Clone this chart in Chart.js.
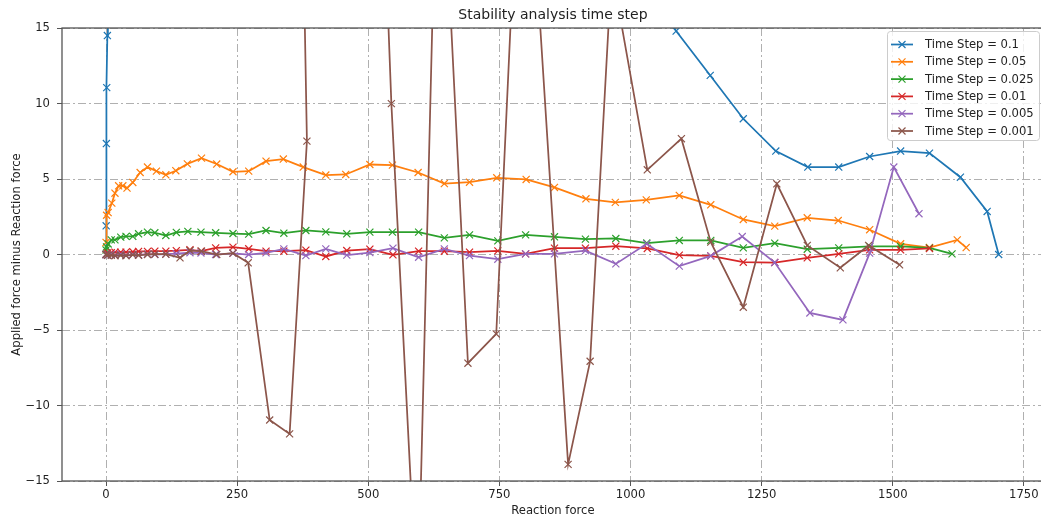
<!DOCTYPE html>
<html>
<head>
<meta charset="utf-8">
<script src="https://cdn.jsdelivr.net/npm/chart.js@4"></script>
<style>
    html, body { margin: 0; padding: 0; background: #fff; }
    #wrap { width: 1041px; height: 522px; overflow: hidden; }
</style>
</head>
<body>
<div id="wrap"><canvas id="stabilityChart" width="1050" height="522"></canvas></div>
<script>
// x = reaction force, y = applied force minus reaction force, one pair of arrays per time step
const step01X = [0, 0.2, 0.6, 1.3, 2.5, 3.5, 1000, 1087, 1152, 1215, 1277, 1338, 1397, 1456, 1515, 1570, 1629, 1680, 1702];
const step01Y = [0, 1.9, 7.35, 11.05, 14.5, 60, 20, 14.8, 11.86, 8.99, 6.85, 5.79, 5.79, 6.49, 6.85, 6.71, 5.12, 2.85, 0];

const step005X = [0, 1, 4, 11, 17, 24, 32, 40, 51, 65, 79, 96, 114, 133, 155, 182, 211, 242, 272, 305, 338, 376, 419, 457, 503, 546, 595, 645, 693, 745, 801, 855, 915, 971, 1030, 1093, 1153, 1215, 1275, 1337, 1396, 1456, 1515, 1570, 1623, 1640];
const step005Y = [0.8, 2.6, 2.78, 3.4, 4.06, 4.55, 4.55, 4.4, 4.77, 5.43, 5.79, 5.52, 5.28, 5.55, 6.0, 6.38, 5.99, 5.48, 5.52, 6.18, 6.32, 5.79, 5.26, 5.3, 5.96, 5.92, 5.43, 4.7, 4.79, 5.08, 4.97, 4.44, 3.69, 3.45, 3.62, 3.91, 3.29, 2.32, 1.88, 2.43, 2.25, 1.64, 0.71, 0.46, 0.97, 0.46];

const step0025X = [0, 1, 4, 10, 17, 28, 38, 51, 62, 79, 93, 114, 134, 156, 181, 209, 242, 272, 305, 339, 381, 419, 459, 503, 546, 596, 645, 693, 747, 800, 855, 914, 972, 1031, 1093, 1153, 1215, 1275, 1337, 1397, 1456, 1515, 1570, 1613];
const step0025Y = [0.3, 0.5, 0.7, 0.97, 0.97, 1.15, 1.2, 1.2, 1.37, 1.48, 1.44, 1.26, 1.46, 1.53, 1.48, 1.44, 1.39, 1.35, 1.59, 1.41, 1.59, 1.5, 1.37, 1.48, 1.48, 1.48, 1.1, 1.3, 0.9, 1.3, 1.17, 1.02, 1.06, 0.76, 0.93, 0.93, 0.44, 0.75, 0.35, 0.44, 0.53, 0.53, 0.44, 0.04];

const step001X = [0, 3, 10, 17, 28, 38, 51, 62, 79, 93, 114, 134, 160, 181, 209, 242, 272, 305, 339, 381, 419, 459, 503, 547, 596, 645, 693, 747, 800, 855, 914, 972, 1032, 1093, 1153, 1215, 1275, 1337, 1397, 1456, 1515, 1570];
const step001Y = [0, 0.1, 0.12, 0.15, 0.15, 0.15, 0.18, 0.2, 0.2, 0.22, 0.22, 0.25, 0.31, 0.22, 0.44, 0.49, 0.38, 0.22, 0.22, 0.29, -0.13, 0.26, 0.35, -0.02, 0.22, 0.22, 0.15, 0.24, 0.04, 0.42, 0.42, 0.55, 0.4, -0.04, -0.09, -0.51, -0.53, -0.22, 0.04, 0.31, 0.31, 0.4];

const step0005X = [0, 3, 10, 17, 28, 38, 51, 62, 79, 93, 114, 134, 160, 181, 209, 242, 272, 305, 339, 381, 419, 459, 503, 547, 596, 645, 693, 747, 800, 855, 914, 972, 1031, 1093, 1153, 1213, 1275, 1342, 1405, 1456, 1502, 1550];
const step0005Y = [0, -0.05, 0, -0.05, 0.02, -0.05, 0, -0.03, 0.02, 0, 0.03, 0.05, 0.12, 0.1, 0, 0.08, 0, 0.11, 0.37, -0.07, 0.37, -0.04, 0.13, 0.42, -0.18, 0.37, -0.07, -0.31, 0.04, 0.04, 0.26, -0.62, 0.71, -0.77, -0.09, 1.19, -0.53, -3.87, -4.33, 0.09, 5.79, 2.7];

const step0001X = [0, 3, 10, 17, 28, 38, 51, 62, 79, 93, 114, 141, 160, 182, 211, 242, 271, 312, 350, 383, 230, 544, 594, 634, 690, 744, 795, 881, 923, 964, 1032, 1097, 1153, 1215, 1279, 1337, 1400, 1454, 1513];
const step0001Y = [0, -0.05, -0.05, -0.08, -0.05, -0.08, -0.02, -0.05, 0, 0.02, 0.02, -0.22, 0.26, 0.22, 0, 0.09, -0.55, -10.96, -11.88, 7.51, 300, 9.99, -24, 32, -7.2, -5.26, 33, -13.9, -7.07, 18.9, 5.61, 7.67, 0.82, -3.49, 4.68, 0.6, -0.88, 0.6, -0.68];

const seriesNames = ["Time Step = 0.1", "Time Step = 0.05", "Time Step = 0.025", "Time Step = 0.01", "Time Step = 0.005", "Time Step = 0.001"];
const seriesX = [step01X, step005X, step0025X, step001X, step0005X, step0001X];
const seriesY = [step01Y, step005Y, step0025Y, step001Y, step0005Y, step0001Y];
const colors = ["#1f77b4", "#ff7f0e", "#2ca02c", "#d62728", "#9467bd", "#8c564b"];

const xTicks = [0, 250, 500, 750, 1000, 1250, 1500, 1750];
const yTicks = [-15, -10, -5, 0, 5, 10, 15];

const FONT = "DejaVu Sans";
const TEXT = "#222";
const SPINE = "#555";

const fmt = v => v < 0 ? "\u2212" + Math.abs(v) : String(v);

// frame around the plot area, drawn over the lines like matplotlib spines
const frame = {
    id: "frame",
    afterDatasetsDraw(chart) {
        const a = chart.chartArea;
        const ctx = chart.ctx;
        ctx.save();
        ctx.strokeStyle = SPINE;
        ctx.lineWidth = 1.3;
        ctx.strokeRect(a.left, a.top, a.right - a.left, a.bottom - a.top);
        ctx.restore();
    }
};

// legend box in the upper right corner of the plot area
const insideLegend = {
    id: "insideLegend",
    afterDraw(chart) {
        const ctx = chart.ctx;
        const box = { x: 887, y: 31, w: 152, h: 109 };
        ctx.save();
        ctx.beginPath();
        ctx.roundRect(box.x + 0.5, box.y + 0.5, box.w, box.h, 3);
        ctx.fillStyle = "rgba(255,255,255,0.8)";
        ctx.fill();
        ctx.strokeStyle = "#cccccc";
        ctx.lineWidth = 1;
        ctx.stroke();

        ctx.font = "11.6px '" + FONT + "'";
        ctx.textBaseline = "middle";
        ctx.fillStyle = TEXT;
        seriesNames.forEach((name, i) => {
            let y = 44.5 + i * 17.3;
            ctx.strokeStyle = colors[i];
            ctx.lineWidth = 1.75;
            ctx.beginPath();
            ctx.moveTo(891, y);
            ctx.lineTo(913, y);
            ctx.stroke();
            ctx.lineWidth = 1.2;
            ctx.beginPath();
            ctx.moveTo(898.5, y - 3.5);
            ctx.lineTo(905.5, y + 3.5);
            ctx.moveTo(898.5, y + 3.5);
            ctx.lineTo(905.5, y - 3.5);
            ctx.stroke();
            ctx.fillText(name, 925, y + 0.5);
        });
        ctx.restore();
    }
};

const datasets = seriesNames.map((name, i) => ({
    label: name,
    data: seriesX[i].map((x, j) => ({ x: x, y: seriesY[i][j] })),
    showLine: true,
    borderColor: colors[i],
    backgroundColor: colors[i],
    borderWidth: 1.75,
    pointStyle: "crossRot",
    pointRadius: 5,
    pointBorderWidth: 1.2,
    pointBorderColor: colors[i],
    tension: 0,
    fill: false,
    clip: 0,
    order: seriesNames.length - 1 - i
}));

let ctx = document.getElementById("stabilityChart").getContext("2d");

new Chart(ctx, {
    type: "scatter",
    data: { datasets: datasets },
    plugins: [frame, insideLegend],
    options: {
        responsive: false,
        animation: false,
        events: [],
        layout: { padding: { left: 0, right: 4, top: 0, bottom: 0 } },
        plugins: {
            legend: { display: false },
            tooltip: { enabled: false },
            title: {
                display: true,
                text: "Stability analysis time step",
                fullSize: false,
                color: TEXT,
                font: { family: FONT, size: 14, weight: "normal", lineHeight: 1.2 },
                padding: { top: 6.6, bottom: 4.6 }
            }
        },
        scales: {
            x: {
                type: "linear",
                min: -84,
                max: 1788,
                afterFit: s => { s.height = 41; },
                afterBuildTicks: s => { s.ticks = xTicks.map(v => ({ value: v })); },
                ticks: {
                    color: TEXT,
                    font: { family: FONT, size: 11.6 },
                    padding: 2,
                    maxRotation: 0,
                    callback: fmt
                },
                grid: {
                    color: "#b0b0b0",
                    lineWidth: 1,
                    drawTicks: true,
                    tickLength: 5,
                    tickColor: SPINE,
                    tickWidth: 1
                },
                border: { display: false, dash: [8, 3, 2, 3] },
                title: {
                    display: true,
                    text: "Reaction force",
                    color: TEXT,
                    font: { family: FONT, size: 11.6 },
                    padding: { top: 0, bottom: 4 }
                }
            },
            y: {
                type: "linear",
                min: -15,
                max: 15,
                afterFit: s => { s.width = 62; },
                afterBuildTicks: s => { s.ticks = yTicks.map(v => ({ value: v })); },
                ticks: {
                    color: TEXT,
                    font: { family: FONT, size: 11.6 },
                    padding: 7,
                    callback: fmt
                },
                grid: {
                    color: "#b0b0b0",
                    lineWidth: 1,
                    drawTicks: true,
                    tickLength: 5,
                    tickColor: SPINE,
                    tickWidth: 1
                },
                border: { display: false, dash: [8, 3, 2, 3] },
                title: {
                    display: true,
                    text: "Applied force minus Reaction force",
                    color: TEXT,
                    font: { family: FONT, size: 11.6 },
                    padding: { top: 10, bottom: 0 }
                }
            }
        }
    }
});
</script>
</body>
</html>
